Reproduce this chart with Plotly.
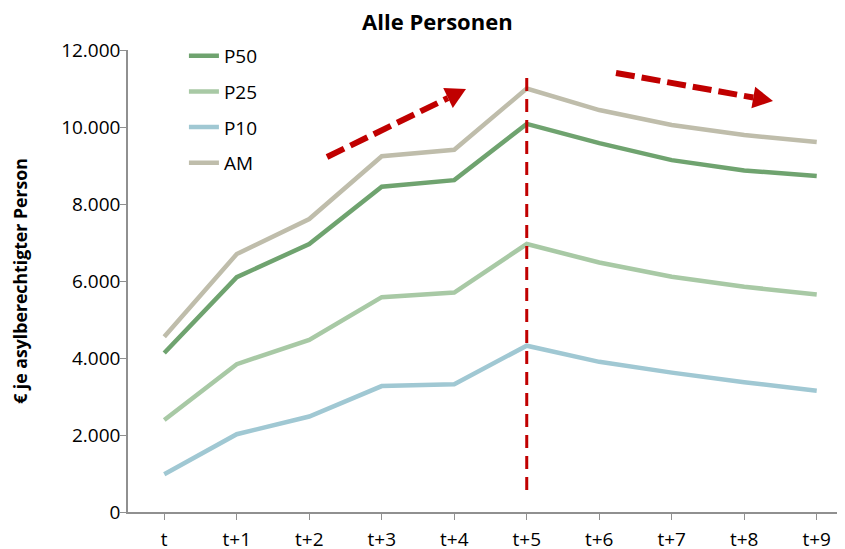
import plotly.graph_objects as go

categories = ["t", "t+1", "t+2", "t+3", "t+4", "t+5", "t+6", "t+7", "t+8", "t+9"]
p50 = [4130, 6100, 6960, 8450, 8620, 10080, 9580, 9140, 8870, 8730]
p25 = [2390, 3840, 4470, 5580, 5700, 6960, 6480, 6110, 5850, 5650]
p10 = [980, 2020, 2480, 3270, 3320, 4320, 3900, 3620, 3370, 3150]
am = [4550, 6700, 7610, 9240, 9410, 11000, 10440, 10050, 9790, 9610]
y_ticks = [0, 2000, 4000, 6000, 8000, 10000, 12000]
y_tick_labels = ["0", "2.000", "4.000", "6.000", "8.000", "10.000", "12.000"]

series = [
    ("P50", p50, "#6fa36f"),
    ("P25", p25, "#a8c9a5"),
    ("P10", p10, "#a0c8d3"),
    ("AM", am, "#bfbdab"),
]

FONT = "Open Sans"
RED = "#c00000"
AXIS = "#909090"

fig = go.Figure()
xs = list(range(len(categories)))
for name, vals, col in series:
    fig.add_trace(go.Scatter(
        x=xs, y=vals, name=name, mode="lines",
        line=dict(color=col, width=4.5),
        legendgroup=name,
    ))

# vertical dashed marker at t+5
fig.add_shape(type="line", xref="x", yref="y", x0=5.0, x1=5.0, y0=570, y1=11480,
              line=dict(color=RED, width=3, dash="13px,8px"))

# dashed arrows
arrows = [
    ((2.245, 9221), (3.914, 10753), [(4.162, 10987), (3.980, 10496), (3.848, 11010)]),
    ((6.231, 11403), (8.125, 10766), [(8.397, 10675), (8.099, 10486), (8.151, 11047)]),
]
for (sx, sy), (ex, ey), tri in arrows:
    fig.add_shape(type="line", xref="x", yref="y", x0=sx, y0=sy, x1=ex, y1=ey,
                  line=dict(color=RED, width=6, dash="19px,7px"))
    path = "M {} {} L {} {} L {} {} Z".format(tri[0][0], tri[0][1], tri[1][0], tri[1][1], tri[2][0], tri[2][1])
    fig.add_shape(type="path", xref="x", yref="y", path=path,
                  fillcolor=RED, line=dict(color=RED, width=0))

# the page body has an 8px margin, so the figure is drawn 8px smaller and shifted
fig.update_layout(
    width=837, height=541,
    margin=dict(l=120, r=0, t=42, b=37, autoexpand=False),
    paper_bgcolor="white", plot_bgcolor="white",
    font=dict(family=FONT, size=19, color="#000000"),
    title=dict(text="<b>Alle Personen</b>", x=0.513, xanchor="center", y=0.974, yanchor="middle",
               font=dict(family=FONT, size=22, color="#000000")),
    showlegend=True,
    legend=dict(x=0.078, y=1.0285, xanchor="left", yanchor="top", bgcolor="rgba(0,0,0,0)",
                traceorder="grouped", tracegroupgap=8,
                font=dict(family=FONT, size=19, color="#000000")),
    xaxis=dict(
        tickmode="array", tickvals=xs, ticktext=categories,
        range=[-0.5, 9.39], showgrid=False, zeroline=False,
        showline=True, linecolor=AXIS, linewidth=1.5,
        ticks="outside", ticklen=6, tickcolor=AXIS, tickson="boundaries",
        tickfont=dict(family=FONT, size=19), automargin=False, ticklabelstandoff=3,
    ),
    yaxis=dict(
        title=dict(text="<b>€ je asylberechtigter Person</b>", font=dict(family=FONT, size=17.7), standoff=36),
        range=[0, 12000], tickvals=y_ticks, ticktext=y_tick_labels,
        showgrid=False, zeroline=False,
        showline=True, linecolor=AXIS, linewidth=1.5,
        ticks="outside", ticklen=6, tickcolor=AXIS,
        tickfont=dict(family=FONT, size=19), automargin=False, ticklabelstandoff=-4,
    ),
)

fig.write_html("out.html")
